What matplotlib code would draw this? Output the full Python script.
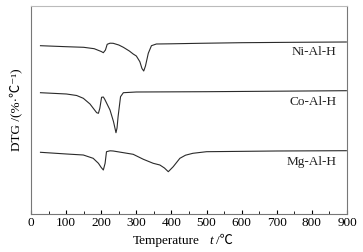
import matplotlib
matplotlib.use("Agg")
import matplotlib.pyplot as plt
from matplotlib.ticker import MultipleLocator

plt.rcParams['font.family'] = ['Liberation Serif', 'Noto Sans CJK SC', 'DejaVu Sans']

# curves (temperature in C, DTG in arbitrary offset units)
ni_t = [27, 100, 150, 180, 200, 206, 212, 217, 225, 234, 250, 263, 280, 291, 300,
        310, 316, 321, 326, 334, 343, 357, 400, 481, 600, 750, 898]
ni_y = [168.3, 167.3, 166.7, 165.3, 162.5, 161.3, 164, 169.7, 170.8, 170.7, 169, 166.7, 163, 160, 158,
        152.3, 145.5, 143, 148, 160.7, 168.3, 170, 170.2, 170.7, 171.3, 171.7, 172]

co_t = [27, 101, 130, 149, 168, 180, 187, 192, 196, 201, 206, 210, 225, 235, 242,
        245, 248, 255, 263, 300, 500, 700, 898]
co_y = [121.3, 120, 118.5, 115.7, 110, 104.5, 101.3, 100.7, 105.7, 116.7, 117, 114.7, 104, 92.3, 81.3,
        86, 97.3, 117.3, 121.3, 122, 122.3, 122.8, 123.3]

mg_t = [27, 101, 149, 177, 192, 200, 206, 211, 215, 225, 234, 291, 320, 348, 367,
        380, 391, 405, 424, 440, 461, 500, 700, 898]
mg_y = [61.7, 60, 59, 55.7, 50.7, 46.5, 44, 50.7, 62.3, 63.2, 63, 59.7, 54.7, 50.7, 49,
        46, 42.3, 47.3, 55.7, 58.8, 60.7, 62.3, 63, 63.3]

labels = ['Ni-Al-H', 'Co-Al-H', 'Mg-Al-H']
label_y = [161.5, 112, 52]

fig = plt.figure(figsize=(3.63, 2.52), dpi=100)
ax = fig.add_axes([0.0854, 0.1508, 0.8706, 0.8254])

for t, y in [(ni_t, ni_y), (co_t, co_y), (mg_t, mg_y)]:
    ax.plot(t, y, color='#2a2a2a', lw=0.8)

for name, ly in zip(labels, label_y):
    ax.text(870, ly, name, ha='right', va='center', fontsize=9.5, color='#222222')

ax.set_xlim(0, 900)
ax.set_ylim(0, 208)
ax.xaxis.set_major_locator(MultipleLocator(100))
ax.xaxis.set_minor_locator(MultipleLocator(50))
ax.tick_params(axis='x', which='both', direction='in', top=False, labelsize=9.5, pad=2)
ax.tick_params(axis='x', which='major', length=3)
ax.tick_params(axis='x', which='minor', length=2)
ax.set_yticks([])
for s in ax.spines.values():
    s.set_color('#777777')
    s.set_linewidth(0.8)
ax.spines['top'].set_color('#bbbbbb')

# x label: "Temperature   t /℃" with italic t
fig.text(0.551, 0.02, 'Temperature', ha='right', va='bottom', fontsize=9.5)
fig.text(0.578, 0.02, 't', ha='left', va='bottom', fontsize=9.5, style='italic')
fig.text(0.594, 0.02, '/℃', ha='left', va='bottom', fontsize=9.5)

ax.set_ylabel('DTG /(%·℃⁻¹)', fontsize=9.5, labelpad=6)

fig.savefig('out.png', dpi=100)
